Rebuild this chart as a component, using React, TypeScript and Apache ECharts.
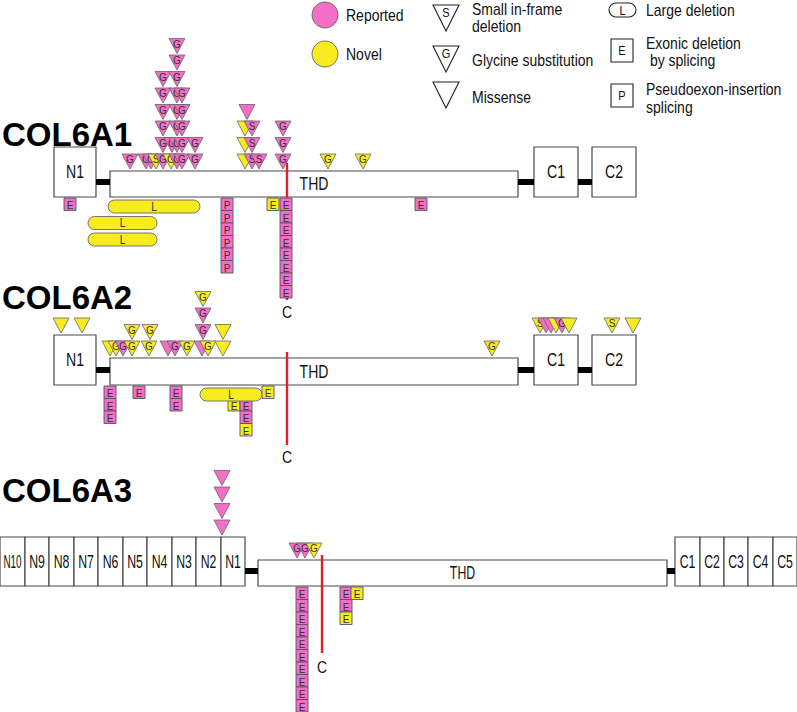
import React, { useEffect, useRef } from "react";
import * as echarts from "echarts";

const W = 797;
const H = 712;
const FONT = "'Liberation Sans', Arial, Helvetica, sans-serif";
const PINK = "#f46ec8";
const YELLOW = "#f8ec21";
const RED = "#e41f26";

// ---------------- data ----------------
// Domains: [label, start, end] along the diagram axis
const COL6A1_DOMAINS: [string, number, number][] = [
  ["N1", 54, 96], ["THD", 110, 518], ["C1", 534, 578], ["C2", 592, 636],
];
const COL6A2_DOMAINS: [string, number, number][] = [
  ["N1", 54, 96], ["THD", 110, 518], ["C1", 534, 578], ["C2", 592, 636],
];
const COL6A3_DOMAINS: [string, number, number][] = [
  ["N10", 0, 25], ["N9", 25, 49], ["N8", 49, 74], ["N7", 74, 98], ["N6", 98, 123],
  ["N5", 123, 147], ["N4", 147, 172], ["N3", 172, 196], ["N2", 196, 221], ["N1", 221, 245],
  ["THD", 258, 667],
  ["C1", 675, 700], ["C2", 700, 724], ["C3", 724, 748], ["C4", 748, 773], ["C5", 773, 797],
];

// Triangles (point mutations): [position, stack level, letter, status R=reported / N=novel]
type Mut = [number, number, string, string];
const COL6A1_THD_MUTATIONS: Mut[] = [
  [130, 0, "G", "R"], [146, 0, "G", "R"], [151, 0, "G", "R"], [156, 0, "S", "N"], [163, 0, "G", "R"],
  [171, 0, "G", "N"], [177, 0, "G", "R"], [182, 0, "G", "R"], [195, 0, "G", "R"],
  [163, 1, "G", "R"], [172, 1, "G", "R"], [177, 1, "G", "R"], [182, 1, "G", "R"], [195, 1, "G", "R"],
  [163, 2, "G", "R"], [177, 2, "G", "R"], [182, 2, "G", "R"],
  [163, 3, "G", "R"], [177, 3, "G", "R"], [182, 3, "G", "R"],
  [163, 4, "G", "R"], [177, 4, "G", "R"], [182, 4, "G", "R"],
  [163, 5, "G", "R"], [177, 5, "G", "R"],
  [177, 6, "G", "R"], [177, 7, "G", "R"],
  [245, 0, "", "N"], [252, 0, "S", "R"], [259, 0, "S", "R"],
  [245, 1, "", "N"], [252, 1, "S", "R"],
  [245, 2, "", "N"], [252, 2, "S", "R"],
  [247, 3, "", "R"],
  [283, 0, "G", "R"], [283, 1, "G", "R"], [283, 2, "G", "R"],
  [328, 0, "G", "N"], [363, 0, "G", "N"],
];
const COL6A1_DOMAIN_MUTATIONS: Mut[] = [];
const COL6A2_THD_MUTATIONS: Mut[] = [
  [110, 0, "", "N"], [116, 0, "G", "N"], [123, 0, "G", "R"], [132, 0, "G", "N"], [149, 0, "G", "N"],
  [168, 0, "", "R"], [175, 0, "G", "R"], [187, 0, "G", "N"], [202, 0, "", "R"], [208, 0, "G", "N"],
  [223, 0, "", "N"], [492, 0, "G", "N"],
  [132, 1, "G", "N"], [150, 1, "G", "N"], [203, 1, "G", "R"], [223, 1, "", "N"],
  [203, 2, "G", "R"],
  [203, 3, "G", "N"],
];
const COL6A2_DOMAIN_MUTATIONS: Mut[] = [
  [61, 0, "", "N"], [82, 0, "", "N"],
  [540, 0, "S", "N"], [546, 0, "", "R"], [551, 0, "", "R"], [556, 0, "", "N"], [562, 0, "G", "R"], [569, 0, "", "N"],
  [612, 0, "S", "N"], [633, 0, "", "N"],
];
const COL6A3_THD_MUTATIONS: Mut[] = [
  [297, 0, "G", "R"], [305, 0, "G", "R"], [314, 0, "G", "N"],
];
const COL6A3_DOMAIN_MUTATIONS: Mut[] = [
  [222, 0, "", "R"], [222, 1, "", "R"], [222, 2, "", "R"], [222, 3, "", "R"],
];

// Splicing boxes below the protein: [position, stack level, letter, status]
const COL6A1_SPLICE: Mut[] = [
  [70, 0, "E", "R"],
  [227, 0, "P", "R"], [227, 1, "P", "R"], [227, 2, "P", "R"], [227, 3, "P", "R"], [227, 4, "P", "R"], [227, 5, "P", "R"],
  [273, 0, "E", "N"],
  [286, 0, "E", "R"], [286, 1, "E", "R"], [286, 2, "E", "R"], [286, 3, "E", "R"],
  [286, 4, "E", "R"], [286, 5, "E", "R"], [286, 6, "E", "R"], [286, 7, "E", "R"],
  [421, 0, "E", "R"],
];
const COL6A2_SPLICE: Mut[] = [
  [110, 0, "E", "R"], [110, 1, "E", "R"], [110, 2, "E", "R"],
  [139, 0, "E", "R"],
  [176, 0, "E", "R"], [176, 1, "E", "R"],
  [268, 0, "E", "N"],
  [234, 1, "E", "N"],
  [246, 1, "E", "R"], [246, 2, "E", "R"], [246, 3, "E", "N"],
];
const COL6A3_SPLICE: Mut[] = [
  [302, 0, "E", "R"], [302, 1, "E", "R"], [302, 2, "E", "R"], [302, 3, "E", "R"], [302, 4, "E", "R"],
  [302, 5, "E", "R"], [302, 6, "E", "R"], [302, 7, "E", "R"], [302, 8, "E", "R"], [302, 9, "E", "R"],
  [346, 0, "E", "R"], [346, 1, "E", "R"], [346, 2, "E", "N"],
  [357, 0, "E", "N"],
];

// Large deletions: [start, end, stack level]
const COL6A1_LARGE: [number, number, number][] = [[108, 200, 0], [88, 157, 1], [88, 157, 2]];
const COL6A2_LARGE: [number, number, number][] = [[200, 262, 0]];
const COL6A3_LARGE: [number, number, number][] = [];

// Position of the cysteine marker (C)
const COL6A1_CYS = 287;
const COL6A2_CYS = 287;
const COL6A3_CYS = 322;

// ---------------- layout ----------------
const TRI_W = 16;
const TRI_H = 15;
const ROW = 16.5;
const GAP = 2;
const BOX_W = 12;
const BOX_STEP = 12.5;
const LARGE_H = 13;
const LARGE_STEP = 16.5;

const GENES = [
  {
    name: "COL6A1", labelY: 134, domTop: 147, domBottom: 197, thdTop: 171,
    cysTop: 163, cysBottom: 300, cLabelY: 312, font: 16, sx: 0.88,
    domains: COL6A1_DOMAINS, thd: COL6A1_THD_MUTATIONS, dom: COL6A1_DOMAIN_MUTATIONS,
    splice: COL6A1_SPLICE, large: COL6A1_LARGE, cys: COL6A1_CYS,
  },
  {
    name: "COL6A2", labelY: 297, domTop: 335, domBottom: 385, thdTop: 358,
    cysTop: 352, cysBottom: 445, cLabelY: 457, font: 16, sx: 0.88,
    domains: COL6A2_DOMAINS, thd: COL6A2_THD_MUTATIONS, dom: COL6A2_DOMAIN_MUTATIONS,
    splice: COL6A2_SPLICE, large: COL6A2_LARGE, cys: COL6A2_CYS,
  },
  {
    name: "COL6A3", labelY: 490, domTop: 537, domBottom: 586, thdTop: 560,
    cysTop: 555, cysBottom: 653, cLabelY: 667, font: 15, sx: 0.82,
    domains: COL6A3_DOMAINS, thd: COL6A3_THD_MUTATIONS, dom: COL6A3_DOMAIN_MUTATIONS,
    splice: COL6A3_SPLICE, large: COL6A3_LARGE, cys: COL6A3_CYS,
  },
];

const fillOf = (s: string) => (s === "N" ? YELLOW : PINK);

function txt(text: string, x: number, y: number, size: number, opts: any = {}) {
  return {
    type: "text",
    x,
    y,
    scaleX: opts.scaleX ?? 1,
    scaleY: opts.scaleY ?? 1,
    style: {
      text,
      fontSize: size,
      fontFamily: FONT,
      fontWeight: opts.bold ? "bold" : "normal",
      fill: opts.fill ?? "#111",
      align: opts.align ?? "center",
      textAlign: opts.align ?? "center",
      verticalAlign: "middle",
      textVerticalAlign: "middle",
    },
  };
}

function buildOption() {
  const domainItems: any[] = [];
  const connectorItems: any[] = [];
  const triItems: any[] = [];
  const boxItems: any[] = [];
  const largeItems: any[] = [];
  const cysItems: any[] = [];

  for (const g of GENES) {
    g.domains.forEach((d, i) => {
      const isThd = d[0] === "THD";
      domainItems.push({
        label: d[0], x0: d[1], x1: d[2], top: isThd ? g.thdTop : g.domTop, bottom: g.domBottom,
        font: g.font, sx: d[0] === "N10" ? 0.66 : g.sx,
      });
      if (i > 0) {
        const prev = g.domains[i - 1];
        if (d[1] - prev[2] > 2) connectorItems.push({ x0: prev[2], x1: d[1], y: g.domBottom - 15 });
      }
    });
    g.thd.forEach((m) =>
      triItems.push({ x: m[0], top: g.thdTop - GAP - TRI_H - m[1] * ROW, letter: m[2], status: m[3] })
    );
    g.dom.forEach((m) =>
      triItems.push({ x: m[0], top: g.domTop - GAP - TRI_H - m[1] * ROW, letter: m[2], status: m[3] })
    );
    g.splice.forEach((b) =>
      boxItems.push({ x: b[0], top: g.domBottom + 1 + b[1] * BOX_STEP, letter: b[2], status: b[3] })
    );
    g.large.forEach((l) =>
      largeItems.push({ x0: l[0], x1: l[1], top: g.domBottom + 3 + l[2] * LARGE_STEP })
    );
    cysItems.push({ x: g.cys, y0: g.cysTop, y1: g.cysBottom, labelY: g.cLabelY });
  }

  const mk = (name: string, items: any[], pt: (it: any) => number[], render: (it: any, api: any) => any) => ({
    type: "custom",
    name,
    coordinateSystem: "cartesian2d",
    silent: true,
    animation: false,
    data: items.map(pt),
    encode: { x: 0, y: 1 },
    renderItem: (params: any, api: any) => render(items[params.dataIndex], api),
  });

  const domainSeries = mk("domains", domainItems, (d) => [d.x0, d.top], (d, api) => {
    const p0 = api.coord([d.x0, d.top]);
    const p1 = api.coord([d.x1, d.bottom]);
    return {
      type: "group",
      children: [
        {
          type: "rect",
          shape: { x: p0[0], y: p0[1], width: p1[0] - p0[0], height: p1[1] - p0[1] },
          style: { fill: "#ffffff", stroke: "#4a4a4a", lineWidth: 1.2 },
        },
        txt(d.label, (p0[0] + p1[0]) / 2, (p0[1] + p1[1]) / 2, d.font, { scaleX: d.sx, scaleY: 1.2 }),
      ],
    };
  });

  const connectorSeries = mk("linkers", connectorItems, (c) => [c.x0, c.y], (c, api) => {
    const p0 = api.coord([c.x0, c.y - 3]);
    const p1 = api.coord([c.x1, c.y + 3]);
    return {
      type: "rect",
      shape: { x: p0[0], y: p0[1], width: p1[0] - p0[0], height: p1[1] - p0[1] },
      style: { fill: "#000000" },
    };
  });

  const cysSeries = mk("cysteine", cysItems, (c) => [c.x, c.y0], (c, api) => {
    const p0 = api.coord([c.x, c.y0]);
    const p1 = api.coord([c.x, c.y1]);
    const pl = api.coord([c.x, c.labelY]);
    return {
      type: "group",
      children: [
        { type: "line", shape: { x1: p0[0], y1: p0[1], x2: p1[0], y2: p1[1] }, style: { stroke: RED, lineWidth: 2.4 } },
        txt("C", pl[0], pl[1], 14, { scaleY: 1.2 }),
      ],
    };
  });

  const triSeries = mk("mutations", triItems, (t) => [t.x, t.top], (t, api) => {
    const p = api.coord([t.x, t.top]);
    const s = api.size([TRI_W, TRI_H]);
    const w = Math.abs(s[0]);
    const h = Math.abs(s[1]);
    const children: any[] = [
      {
        type: "polygon",
        shape: { points: [[p[0] - w / 2, p[1]], [p[0] + w / 2, p[1]], [p[0], p[1] + h]] },
        style: { fill: fillOf(t.status), stroke: "#666666", lineWidth: 0.8 },
      },
    ];
    if (t.letter) children.push(txt(t.letter, p[0], p[1] + h * 0.34, 10, { scaleY: 1.15, fill: "#333" }));
    return { type: "group", children };
  });

  const boxSeries = mk("splicing", boxItems, (b) => [b.x, b.top], (b, api) => {
    const p0 = api.coord([b.x - BOX_W / 2, b.top]);
    const p1 = api.coord([b.x + BOX_W / 2, b.top + BOX_STEP]);
    return {
      type: "group",
      children: [
        {
          type: "rect",
          shape: { x: p0[0], y: p0[1], width: p1[0] - p0[0], height: p1[1] - p0[1] },
          style: { fill: fillOf(b.status), stroke: "#555555", lineWidth: 0.9 },
        },
        txt(b.letter, (p0[0] + p1[0]) / 2, (p0[1] + p1[1]) / 2 + 0.5, 10, { scaleY: 1.15, fill: "#333" }),
      ],
    };
  });

  const largeSeries = mk("large", largeItems, (l) => [l.x0, l.top], (l, api) => {
    const p0 = api.coord([l.x0, l.top]);
    const p1 = api.coord([l.x1, l.top + LARGE_H]);
    const hh = p1[1] - p0[1];
    return {
      type: "group",
      children: [
        {
          type: "rect",
          shape: { x: p0[0], y: p0[1], width: p1[0] - p0[0], height: hh, r: hh / 2 },
          style: { fill: YELLOW, stroke: "#666666", lineWidth: 0.9 },
        },
        txt("L", (p0[0] + p1[0]) / 2, (p0[1] + p1[1]) / 2, 10, { scaleY: 1.2, fill: "#333" }),
      ],
    };
  });

  // legend & gene titles
  const lt = (text: string, x: number, y: number) => ({ ...txt(text, x, y, 14, { align: "left", scaleY: 1.2, fill: "#111" }) });
  const graphic: any[] = [
    ...GENES.map((g) => txt(g.name, 2, g.labelY, 33, { align: "left", bold: true, fill: "#000" })),
    { type: "circle", shape: { cx: 325, cy: 15, r: 13 }, style: { fill: PINK, stroke: "#555", lineWidth: 0.8 } },
    lt("Reported", 346, 15),
    { type: "circle", shape: { cx: 325, cy: 54, r: 13 }, style: { fill: YELLOW, stroke: "#555", lineWidth: 0.8 } },
    lt("Novel", 346, 54),
    { type: "polygon", shape: { points: [[433, 5], [459, 5], [446, 31]] }, style: { fill: "#fff", stroke: "#222", lineWidth: 1.1 } },
    txt("S", 446, 13, 11, { scaleY: 1.2 }),
    lt("Small in-frame", 472, 9),
    lt("deletion", 472, 26),
    { type: "polygon", shape: { points: [[433, 46], [459, 46], [446, 72]] }, style: { fill: "#fff", stroke: "#222", lineWidth: 1.1 } },
    txt("G", 446, 54, 11, { scaleY: 1.2 }),
    lt("Glycine substitution", 472, 60),
    { type: "polygon", shape: { points: [[433, 82], [459, 82], [446, 108]] }, style: { fill: "#fff", stroke: "#222", lineWidth: 1.1 } },
    lt("Missense", 472, 97),
    { type: "rect", shape: { x: 609, y: 3, width: 27, height: 14, r: 7 }, style: { fill: "#fff", stroke: "#222", lineWidth: 1.1 } },
    txt("L", 622.5, 10.5, 11, { scaleY: 1.2 }),
    lt("Large deletion", 646, 10),
    { type: "rect", shape: { x: 611, y: 39, width: 22, height: 23 }, style: { fill: "#fff", stroke: "#222", lineWidth: 1.1 } },
    txt("E", 622, 51, 11, { scaleY: 1.2 }),
    lt("Exonic deletion", 646, 43),
    lt(" by splicing", 646, 60),
    { type: "rect", shape: { x: 611, y: 84, width: 22, height: 23 }, style: { fill: "#fff", stroke: "#222", lineWidth: 1.1 } },
    txt("P", 622, 96, 11, { scaleY: 1.2 }),
    lt("Pseudoexon-insertion", 646, 89),
    lt("splicing", 646, 107),
  ];

  return {
    animation: false,
    backgroundColor: "#ffffff",
    grid: { left: 0, right: 0, top: 0, bottom: 0, containLabel: false },
    xAxis: { type: "value", min: 0, max: W, show: false },
    yAxis: { type: "value", min: 0, max: H, inverse: true, show: false },
    graphic,
    series: [domainSeries, connectorSeries, cysSeries, triSeries, boxSeries, largeSeries],
  };
}

export default function App() {
  const ref = useRef<HTMLDivElement>(null);
  useEffect(() => {
    document.body.style.margin = "0";
    const chart = echarts.init(ref.current as HTMLDivElement, null, { renderer: "svg" });
    chart.setOption(buildOption() as any);
    return () => chart.dispose();
  }, []);
  return <div ref={ref} style={{ width: W, height: H }} />;
}
